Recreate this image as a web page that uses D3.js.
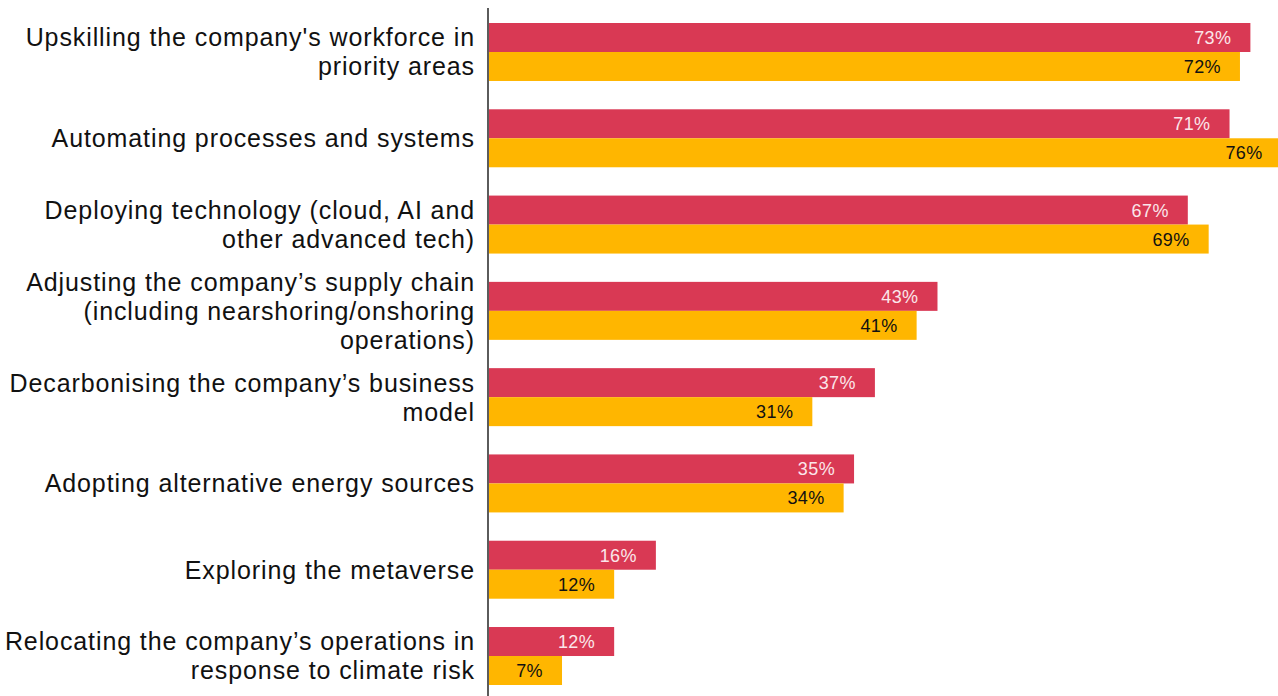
<!DOCTYPE html>
<html>
<head>
<meta charset="utf-8">
<script src="https://cdn.jsdelivr.net/npm/d3@7"></script>
<style>
  html, body { margin: 0; padding: 0; background: #fff; }
  svg { display: block; }
</style>
</head>
<body>
<svg id="chart" width="1278" height="696"></svg>
<script>
// Category labels, split into their display lines
const categories = [
  ["Upskilling the company's workforce in", "priority areas"],
  ["Automating processes and systems"],
  ["Deploying technology (cloud, AI and", "other advanced tech)"],
  ["Adjusting the company’s supply chain", "(including nearshoring/onshoring", "operations)"],
  ["Decarbonising the company’s business", "model"],
  ["Adopting alternative energy sources"],
  ["Exploring the metaverse"],
  ["Relocating the company’s operations in", "response to climate risk"]
];
const seriesA = [73, 71, 67, 43, 37, 35, 16, 12]; // red bars
const seriesB = [72, 76, 69, 41, 31, 34, 12, 7];  // yellow bars

const colorA = "#d93954";
const colorB = "#ffb600";

const svg = d3.select("#chart");
const font = "'Liberation Sans', Arial, Helvetica, sans-serif";

const x = d3.scaleLinear().domain([0, 100]).range([489, 1532]);
const y = d3.scaleBand().domain(d3.range(categories.length))
  .range([23, 685]).paddingInner(0.328).paddingOuter(0);
const sub = d3.scaleBand().domain([0, 1]).range([0, y.bandwidth()]);

const rows = categories.map((c, i) => ({ i, lines: c, a: seriesA[i], b: seriesB[i] }));

const g = svg.selectAll("g.row").data(rows).join("g")
  .attr("class", "row")
  .attr("transform", d => `translate(0,${y(d.i)})`);

const bars = [
  { key: "a", idx: 0, color: colorA, text: "#fbe6ea" },
  { key: "b", idx: 1, color: colorB, text: "#111" }
];

bars.forEach(s => {
  g.append("rect")
    .attr("x", x(0))
    .attr("y", sub(s.idx))
    .attr("width", d => x(d[s.key]) - x(0))
    .attr("height", sub.bandwidth())
    .attr("fill", s.color);
  g.append("text")
    .attr("x", d => x(d[s.key]) - 19)
    .attr("y", sub(s.idx) + sub.bandwidth() / 2)
    .attr("dy", "0.36em")
    .attr("text-anchor", "end")
    .attr("font-family", font)
    .attr("font-size", 18)
    .attr("letter-spacing", 0.4)
    .attr("fill", s.text)
    .text(d => d[s.key] + "%");
});

// Category labels, vertically centred on each group
const lineH = 29;
g.append("text")
  .attr("text-anchor", "end")
  .attr("font-family", font)
  .attr("font-size", 25)
  .attr("letter-spacing", 0.9)
  .attr("fill", "#111")
  .each(function (d) {
    const t = d3.select(this);
    const n = d.lines.length;
    d.lines.forEach((ln, k) => {
      t.append("tspan")
        .attr("x", 475)
        .attr("y", y.bandwidth() / 2 + (k - (n - 1) / 2) * lineH)
        .attr("dy", "0.36em")
        .text(ln);
    });
  });

// Vertical baseline
svg.append("line")
  .attr("x1", 488).attr("x2", 488)
  .attr("y1", 8).attr("y2", 696)
  .attr("stroke", "#333")
  .attr("stroke-width", 1.6);
</script>
</body>
</html>
